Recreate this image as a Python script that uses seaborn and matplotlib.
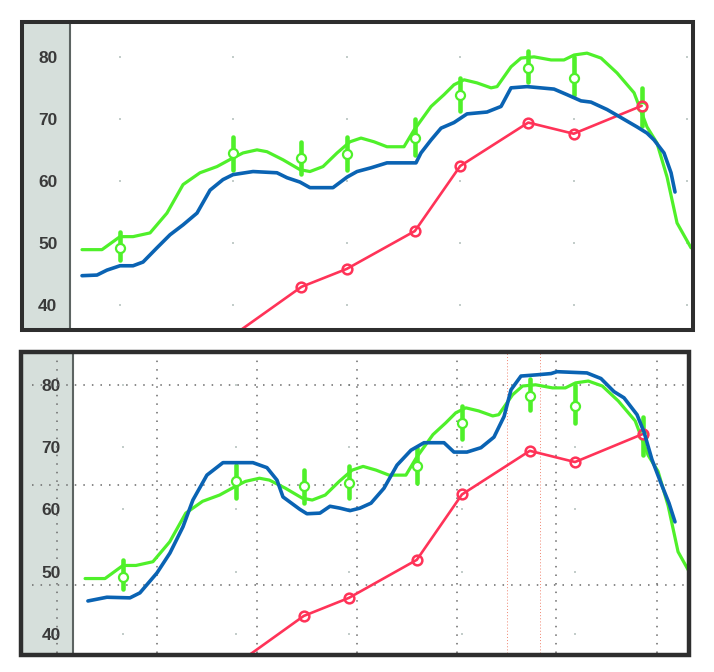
import numpy as np
import pandas as pd
import matplotlib
matplotlib.use("Agg")
import matplotlib.pyplot as plt
from matplotlib.patches import Rectangle
import seaborn as sns

# ---------------- data ----------------
# x in grid units (grey dot columns at 0..5), y in chart units
green_x = [-0.335, -0.159, 0.0, 0.115, 0.265, 0.414, 0.556, 0.705, 0.855, 0.996, 1.085,
           1.208, 1.296, 1.437, 1.587, 1.675, 1.790, 1.914, 2.028, 2.125, 2.240, 2.354,
           2.504, 2.593, 2.743, 2.857, 2.945, 3.034, 3.148, 3.272, 3.325, 3.448, 3.536,
           3.651, 3.801, 3.915, 4.004, 4.118, 4.242, 4.383, 4.533, 4.647, 4.735, 4.824,
           4.912, 5.035]
green_y = [48.9, 48.9, 51.0, 51.0, 51.6, 54.8, 59.4, 61.3, 62.3, 63.7, 64.5,
           65.0, 64.7, 63.4, 61.8, 61.5, 62.3, 64.5, 66.3, 66.9, 66.3, 65.5,
           65.5, 68.2, 72.0, 73.9, 75.5, 76.3, 75.8, 75.0, 75.2, 78.4, 79.8,
           80.0, 79.5, 79.5, 80.3, 80.6, 79.8, 77.4, 74.2, 68.7, 66.1, 60.6,
           53.2, 49.2]

marker_x = [0.0, 1.0, 1.6, 2.0, 2.6, 3.0, 3.6, 4.0, 4.6]
marker_y = [49.2, 64.5, 63.7, 64.3, 66.9, 73.9, 78.2, 76.6, 71.9]
marker_lo = [47.2, 61.8, 61.1, 61.8, 64.2, 71.3, 75.9, 73.8, 68.8]
marker_hi = [51.8, 67.1, 66.3, 67.0, 69.9, 76.6, 81.0, 80.0, 74.9]

red_x = [1.0, 1.6, 2.0, 2.6, 3.0, 3.6, 4.0, 4.6]
red_y = [35.1, 42.9, 45.8, 51.9, 62.4, 69.4, 67.6, 72.1]

blue_top_x = [-0.335, -0.203, -0.115, 0.0, 0.115, 0.203, 0.326, 0.441, 0.556, 0.679,
              0.794, 0.908, 0.996, 1.173, 1.384, 1.473, 1.587, 1.675, 1.878, 2.002,
              2.090, 2.213, 2.354, 2.610, 2.654, 2.743, 2.831, 2.945, 3.060, 3.236,
              3.360, 3.448, 3.589, 3.827, 3.942, 4.065, 4.153, 4.295, 4.418, 4.559,
              4.647, 4.709, 4.797, 4.859, 4.894]
blue_top_y = [44.7, 44.8, 45.6, 46.3, 46.3, 46.9, 49.2, 51.3, 52.9, 54.8,
              58.5, 60.2, 61.0, 61.5, 61.3, 60.5, 59.8, 58.9, 58.9, 60.6,
              61.5, 62.1, 62.9, 62.9, 64.5, 66.6, 68.5, 69.4, 70.8, 71.1,
              72.0, 75.0, 75.2, 74.8, 73.9, 72.9, 72.7, 71.5, 70.2, 68.7,
              67.7, 66.6, 64.5, 61.3, 58.2]

blue_bot_x = [-0.310, -0.142, 0.062, 0.150, 0.301, 0.416, 0.531, 0.619, 0.743, 0.885,
              1.150, 1.274, 1.363, 1.416, 1.566, 1.628, 1.743, 1.832, 1.920, 2.009,
              2.097, 2.195, 2.310, 2.425, 2.549, 2.664, 2.841, 2.929, 3.044, 3.168,
              3.283, 3.372, 3.434, 3.522, 3.664, 3.788, 3.841, 4.106, 4.230, 4.345,
              4.434, 4.549, 4.611, 4.681, 4.761, 4.832, 4.885]
blue_bot_y = [45.3, 45.9, 45.8, 46.6, 49.8, 53.0, 57.2, 61.5, 65.5, 67.5,
              67.5, 66.7, 64.7, 62.0, 60.0, 59.3, 59.4, 60.5, 60.2, 59.8,
              60.2, 61.0, 63.4, 67.1, 69.5, 70.7, 70.7, 69.2, 69.2, 69.9,
              71.6, 74.9, 79.2, 81.4, 81.6, 81.8, 82.1, 81.9, 81.0, 78.9,
              77.9, 75.2, 72.4, 68.0, 64.2, 61.0, 58.0]

y_ticks = [40, 50, 60, 70, 80]
grid_cols = [0, 1, 2, 3, 4, 5]

overlay_x = [-0.584, 0.301, 1.186, 2.071, 2.956, 3.832, 4.726]
overlay_y = [80.0, 63.9, 47.8]
overlay_red_x = [3.398, 3.690]

GREEN = "#4ff02a"
BLUE = "#0a63b3"
RED = "#ff3358"

W, H = 714, 672

sns.set_style("white")
plt.rcParams["font.family"] = ["Liberation Sans", "DejaVu Sans"]

fig = plt.figure(figsize=(W / 100, H / 100), dpi=100)
fig.patch.set_facecolor("white")


def rect(x0, y0, x1, y1):
    return [x0 / W, 1 - y1 / H, (x1 - x0) / W, (y1 - y0) / H]


def add_box(x0, y0, x1, y1, **kw):
    r = Rectangle((x0 / W, 1 - y1 / H), (x1 - x0) / W, (y1 - y0) / H,
                  transform=fig.transFigure, **kw)
    fig.add_artist(r)


def panel(axrect, xlim, ylim, blue_x, blue_y):
    ax = fig.add_axes(axrect)
    ax.set_xlim(*xlim)
    ax.set_ylim(*ylim)
    # faint grey grid dots
    gx, gy = np.meshgrid(grid_cols, y_ticks)
    ax.scatter(gx.ravel(), gy.ravel(), s=4, marker="s", color="#c3cdca",
               linewidths=0, zorder=1)
    # green smooth line
    sns.lineplot(x=green_x, y=green_y, ax=ax, color=GREEN, lw=2.3,
                 sort=False, estimator=None, zorder=3,
                 solid_joinstyle="round", solid_capstyle="round")
    # green error bars + markers
    ax.vlines(marker_x, marker_lo, marker_hi, color=GREEN, lw=3.3,
              capstyle="round", zorder=4)
    ax.plot(marker_x, marker_y, "o", ms=6.5, mfc="white", mec=GREEN,
            mew=1.6, zorder=5)
    # red line
    sns.lineplot(x=red_x, y=red_y, ax=ax, color=RED, lw=1.9, sort=False,
                 estimator=None, marker="o", markersize=7,
                 markerfacecolor="none", markeredgecolor=RED,
                 markeredgewidth=1.8, zorder=6)
    # blue line
    sns.lineplot(x=blue_x, y=blue_y, ax=ax, color=BLUE, lw=2.6, sort=False,
                 estimator=None, zorder=7,
                 solid_joinstyle="round", solid_capstyle="round")
    ax.set_xticks([])
    ax.set_yticks(y_ticks)
    ax.set_yticklabels([str(t) for t in y_ticks])
    ax.tick_params(axis="y", length=5, width=1.6, color="#4a4a4a", pad=4,
                   labelsize=12.5, labelcolor="#3a3a3a")
    for lab in ax.get_yticklabels():
        lab.set_fontweight("bold")
    for s in ["top", "right", "bottom"]:
        ax.spines[s].set_visible(False)
    ax.spines["left"].set_color("#5d6462")
    ax.spines["left"].set_linewidth(1.5)
    ax.set_xlabel("")
    ax.set_ylabel("")
    if ax.get_legend():
        ax.get_legend().remove()
    return ax


# ---------- top panel ----------
add_box(24, 24, 70, 328, facecolor="#d6dfdb", edgecolor="none", zorder=-1)
ax1 = panel(rect(70, 24, 691, 329), (-0.441, 5.035), (36.1, 85.3),
            blue_top_x, blue_top_y)
add_box(22, 22, 693, 330, fill=False, edgecolor="#2e2e2e", lw=2.9, zorder=10)

# ---------- bottom panel ----------
add_box(23, 354, 73, 653, facecolor="#d6dfdb", edgecolor="none", zorder=-1)
ax2 = panel(rect(73, 353, 688, 653), (-0.442, 5.0), (36.95, 85.1),
            blue_bot_x, blue_bot_y)
# overlay dotted grid
x0f = (32 - 73) / 615
x1f = (684 - 73) / 615
for yv in overlay_y:
    ax2.axhline(yv, xmin=x0f, xmax=x1f, color="#6a6a6a", lw=1.1,
                ls=(0, (1, 4.6)), clip_on=False, zorder=2)
for xv in overlay_x:
    ax2.axvline(xv, ymin=0, ymax=0.98, color="#6a6a6a", lw=1.1,
                ls=(0, (1, 4.6)), clip_on=False, zorder=2)
for xv in overlay_red_x:
    ax2.axvline(xv, ymin=0, ymax=1, color="#f0846f", lw=0.7,
                ls=(0, (1, 2.2)), zorder=2)
add_box(21, 352, 689, 655, fill=False, edgecolor="#2e2e2e", lw=3.2, zorder=10)

fig.savefig("out.png", dpi=100, facecolor="white")
